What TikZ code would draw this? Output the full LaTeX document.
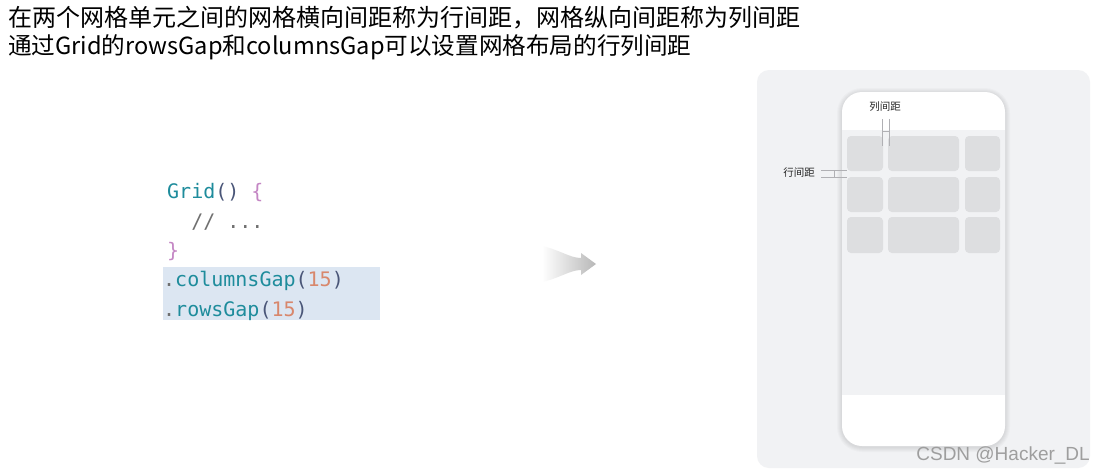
\documentclass[tikz,border=0pt]{standalone}
\usepackage{fontspec}
\setmainfont{Liberation Sans}
\newfontfamily\cjk{Noto Sans CJK SC}
\newfontfamily\codefont{DejaVu Sans Mono}
\definecolor{panelgray}{HTML}{F1F2F4}
\definecolor{cellgray}{HTML}{DDDEE0}
\definecolor{hlblue}{HTML}{DCE6F2}
\definecolor{kwteal}{HTML}{1E8C9C}
\definecolor{punct}{HTML}{4A5678}
\definecolor{brace}{HTML}{C486C4}
\definecolor{numc}{HTML}{D8876C}
\definecolor{cmt}{HTML}{707070}
\definecolor{markgray}{HTML}{B0B0B4}
\tikzset{
  title/.style={anchor=west, inner sep=0pt, font=\cjk\fontsize{24}{28}\selectfont, text=black},
  code/.style={anchor=base west, inner sep=0pt, font=\codefont\fontsize{20}{24}\selectfont},
  cell/.style={fill=cellgray, rounded corners=4pt},
  small/.style={inner sep=0pt, font=\cjk\fontsize{10.5}{12}\selectfont, text=black!85},
  gapline/.style={draw=markgray, line width=0.6pt},
}
\begin{document}
\begin{tikzpicture}[x=1pt,y=-1pt]
\useasboundingbox[fill=white] (0,0) rectangle (1095,472);
% title
\node[title] (t1) at (8,18) {在两个网格单元之间的网格横向间距称为行间距，网格纵向间距称为列间距};
\node[title, font=\cjk\fontsize{23.6}{28}\selectfont] (t2) at (8,47) {通过Grid的rowsGap和columnsGap可以设置网格布局的行列间距};
% code block
\fill[hlblue] (163,267) rectangle (380,320);
\node[code] (c1) at (167,198) {\textcolor{kwteal}{Grid}\textcolor{punct}{()} \textcolor{brace}{\{}};
\node[code] (c2) at (167,228) {\textcolor{cmt}{\ \ // ...}};
\node[code] (c3) at (167,257) {\textcolor{brace}{\}}};
\node[code] (c4) at (163,286) {\textcolor{cmt}{.}\textcolor{kwteal}{columnsGap}\textcolor{punct}{(}\textcolor{numc}{15}\textcolor{punct}{)}};
\node[code] (c5) at (163,316) {\textcolor{cmt}{.}\textcolor{kwteal}{rowsGap}\textcolor{punct}{(}\textcolor{numc}{15}\textcolor{punct}{)}};
% arrow
\shade[left color=white, right color=black!28, shading angle=90]
  (542,246) .. controls (560,250) and (570,258) .. (581,258)
  -- (581,253) -- (596,264) -- (581,275) -- (581,270)
  .. controls (570,270) and (560,278) .. (542,282) -- cycle;
% right panel
\fill[panelgray, rounded corners=12pt] (757,70) rectangle (1090,468);
% phone soft shadow
\foreach \d in {5,4,3,2,1}{
  \fill[black, opacity=0.018, rounded corners=20pt+\d pt] (842-\d,92-\d+1) rectangle (1005+\d,446+\d+1);
}
% phone
\node[draw=none, fill=white, rounded corners=20pt, minimum width=163pt, minimum height=354pt, inner sep=0pt]
  (phone) at (923.5,269) {};
\begin{scope}
  \clip[rounded corners=20pt] (842,92) rectangle (1005,446);
  \fill[panelgray] (842,130) rectangle (1005,395);
\end{scope}
% cells
\foreach \ya/\yb in {136/171, 177/212, 217/253}{
  \fill[cell] (847,\ya) rectangle (883,\yb);
  \fill[cell] (888,\ya) rectangle (959,\yb);
  \fill[cell] (965,\ya) rectangle (1000,\yb);
}
% labels
\node[small] (lj) at (885,107) {列间距};
\node[small] (hj) at (799,173) {行间距};
% column gap marker
\coordinate (ca) at (882,119); \coordinate (cb) at (882,146);
\coordinate (cc) at (889,119); \coordinate (cd) at (889,146);
\coordinate (ce) at (882,131); \coordinate (cf) at (889,131);
\draw[gapline] (ca) -- (cb); \draw[gapline] (cc) -- (cd); \draw[gapline] (ce) -- (cf);
% row gap marker
\coordinate (ra) at (821,170); \coordinate (rb) at (847,170);
\coordinate (rc) at (821,177); \coordinate (rd) at (847,177);
\coordinate (re) at (834,170); \coordinate (rf) at (834,177);
\draw[gapline] (ra) -- (rb); \draw[gapline] (rc) -- (rd); \draw[gapline] (re) -- (rf);
% watermark
\node[inner sep=0pt, anchor=east, font=\fontsize{19}{22}\selectfont, text=black!38] (wm) at (1090,455)
  {CSDN @Hacker\_DL};
\end{tikzpicture}
\end{document}
